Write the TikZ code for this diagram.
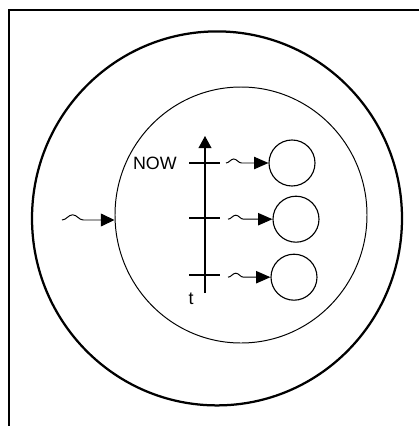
\documentclass[tikz,border=0pt]{standalone}
\usepackage{fontspec}
\setmainfont{Liberation Sans}
\usetikzlibrary{arrows.meta, decorations.pathmorphing, shapes.geometric, positioning}
\tikzset{
  frameline/.style = {line width=1.1pt, black},
  ringout/.style   = {ellipse, draw, line width=1.6pt, minimum width=9.25cm, minimum height=9.35cm, inner sep=0pt},
  ringin/.style    = {ellipse, draw, line width=0.7pt, minimum width=6.3cm, minimum height=6.4cm, inner sep=0pt},
  cell/.style      = {circle, draw, line width=0.8pt, minimum size=1.15cm, inner sep=0pt},
  lbl/.style       = {font=\fontsize{12.7}{14}\selectfont, inner sep=0pt},
}

\begin{document}
\begin{tikzpicture}[x=1cm,y=1cm,
    axisline/.style={-{Triangle[length=3mm, width=3.2mm]}, line width=0.8pt},
    tick/.style={line width=0.8pt},
    wave/.style={-{Triangle[length=3.6mm, width=3.1mm]}, line width=0.7pt, decorate,
      decoration={snake, amplitude=0.1cm, segment length=0.62cm, post length=0.42cm}},
    bigwave/.style={-{Triangle[length=3.4mm, width=3.2mm]}, line width=0.7pt, decorate,
      decoration={snake, amplitude=0.13cm, segment length=0.85cm, post length=0.4cm}}]
  \useasboundingbox (0,0) rectangle (10.475,-10.65);
  \draw[frameline] (10.475,-0.25) -- (0.225,-0.25) -- (0.225,-10.65);
  % rings
  \node[ringout] (outer) at (5.425,-5.46) {};
  \node[ringin] (inner) at (6.025,-5.375) {};
  % time axis
  \coordinate (tbot) at (5.125,-7.325);
  \coordinate (ttop) at (5.125,-3.4);
  \draw[axisline] (tbot) -- (ttop);
  \draw[tick] (4.725,-4.075) -- (5.5,-4.075);
  \draw[tick] (4.725,-5.45) -- (5.5,-5.45);
  \draw[tick] (4.725,-6.875) -- (5.5,-6.875);
  \node[lbl, anchor=east] (now) at (4.425,-4.075) {NOW};
  \node[lbl] (t) at (4.775,-7.47) {t};
  % cells
  \node[cell] (c1) at (7.3,-4.075) {};
  \node[cell] (c2) at (7.4,-5.48) {};
  \node[cell] (c3) at (7.35,-6.93) {};
  \coordinate (w1) at (5.65,-4.075);
  \coordinate (w2) at (5.7,-5.48);
  \coordinate (w3) at (5.7,-6.93);
  \draw[wave] (w1) -- (c1.west);
  \draw[wave] (w2) -- (c2.west);
  \draw[wave] (w3) -- (c3.west);
  % incoming
  \coordinate (src) at (1.55,-5.5);
  \draw[bigwave] (src) -- (src -| inner.west);
\end{tikzpicture}
\end{document}
